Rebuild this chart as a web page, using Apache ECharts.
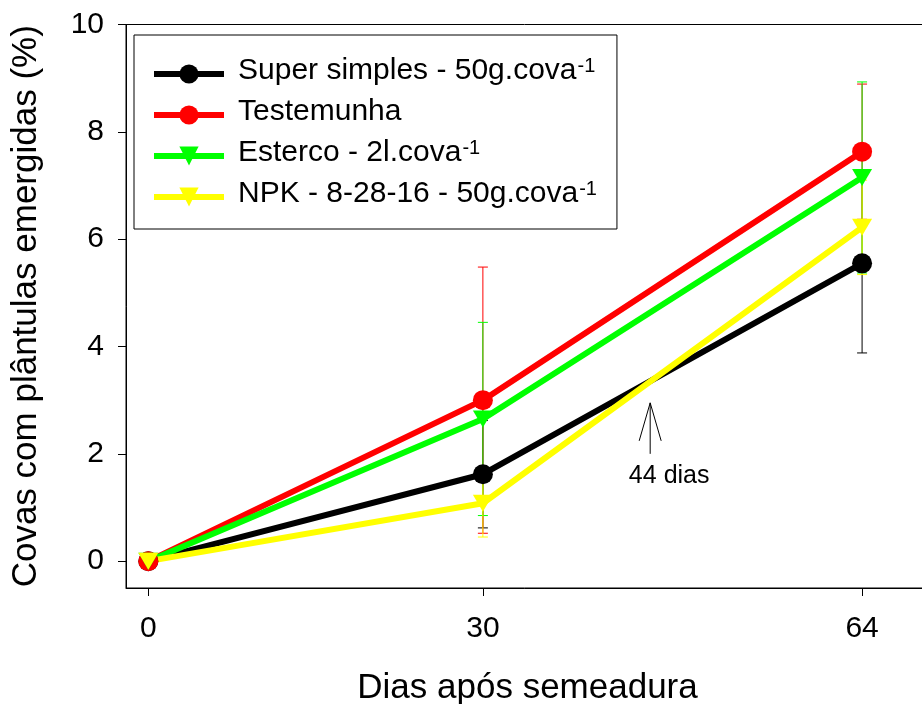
<!DOCTYPE html>
<html>
<head>
<meta charset="utf-8">
<title>Covas com plântulas emergidas</title>
<script src="https://cdn.jsdelivr.net/npm/echarts@6/dist/echarts.min.js"></script>
<style>
  html, body { margin: 0; padding: 0; background: #fff; }
  #chart { width: 922px; height: 704px; }
</style>
</head>
<body>
<div id="chart"></div>
<script>
// dados
const days = [0, 30, 64]
const xTicks = [0, 30, 64]
const yTicks = [0, 2, 4, 6, 8, 10]

const superSimples = [0, 1.62, 5.55]
const superSimplesErr = [0, 1.0, 1.67]
const testemunha = [0, 3.0, 7.63]
const testemunhaErr = [0, 2.48, 1.26]
const esterco = [0, 2.65, 7.15]
const estercoErr = [0, 1.8, 1.78]
const npk = [0, 1.08, 6.22]
const npkErr = [0, 0.63, 0.88]

// seta "44 dias": x, base e ponta da seta
const arrowX = 45
const arrowFrom = 2.0
const arrowTo = 2.95
const arrowLabel = '44 dias'

const FONT = '"Liberation Sans", Arial, Helvetica, sans-serif'

const groups = [
    { name: 'Super simples - 50g.cova', sup: '-1', values: superSimples, err: superSimplesErr, color: '#000000', symbol: 'circle' },
    { name: 'Testemunha', sup: '', values: testemunha, err: testemunhaErr, color: '#ff0000', symbol: 'circle' },
    { name: 'Esterco - 2l.cova', sup: '-1', values: esterco, err: estercoErr, color: '#00ff00', symbol: 'triangle' },
    { name: 'NPK - 8-28-16 - 50g.cova', sup: '-1', values: npk, err: npkErr, color: '#ffff00', symbol: 'triangle' }
]

const chart = echarts.init(document.getElementById('chart'), null, { renderer: 'canvas' })

// barras de erro (linha vertical + traços)
function errorBarSeries(g) {
    return {
        type: 'custom',
        name: g.name + '_err',
        silent: true,
        data: days.map((d, i) => [d, g.values[i] - g.err[i], g.values[i] + g.err[i], g.err[i]]),
        encode: { x: 0, y: [1, 2] },
        renderItem: function (params, api) {
            if (api.value(3) === 0) return null
            const x = api.value(0)
            const top = api.coord([x, api.value(2)])
            const bot = api.coord([x, api.value(1)])
            const w = 5
            const st = { stroke: g.color, lineWidth: 1 }
            return {
                type: 'group',
                children: [
                    { type: 'line', shape: { x1: top[0], y1: top[1], x2: bot[0], y2: bot[1] }, style: st },
                    { type: 'line', shape: { x1: top[0] - w, y1: top[1], x2: top[0] + w, y2: top[1] }, style: st },
                    { type: 'line', shape: { x1: bot[0] - w, y1: bot[1], x2: bot[0] + w, y2: bot[1] }, style: st }
                ]
            }
        }
    }
}

function lineSeries(g) {
    return {
        type: 'line',
        name: g.name,
        data: days.map((d, i) => [d, g.values[i]]),
        symbol: g.symbol,
        symbolSize: g.symbol === 'circle' ? 20 : [20, 17],
        symbolRotate: g.symbol === 'triangle' ? 180 : 0,
        showSymbol: true,
        clip: false,
        lineStyle: { color: g.color, width: 6 },
        itemStyle: { color: g.color, borderWidth: 0 },
        emphasis: { disabled: true }
    }
}

const series = []
groups.forEach(g => {
    series.push(errorBarSeries(g))
    series.push(lineSeries(g))
})

// anotação da seta
series.push({
    type: 'custom',
    name: 'seta',
    silent: true,
    data: [[arrowX, arrowFrom, arrowTo]],
    encode: { x: 0, y: [1, 2] },
    z: 5,
    renderItem: function (params, api) {
        const tail = api.coord([api.value(0), api.value(1)])
        const tip = api.coord([api.value(0), api.value(2)])
        const st = { stroke: '#000', lineWidth: 1 }
        return {
            type: 'group',
            children: [
                { type: 'line', shape: { x1: tail[0], y1: tail[1], x2: tip[0], y2: tip[1] }, style: st },
                { type: 'polyline', shape: { points: [[tip[0] - 11, tip[1] + 38], [tip[0], tip[1]], [tip[0] + 11, tip[1] + 38]] }, style: { stroke: '#000', lineWidth: 1, fill: null } },
                { type: 'text', x: tip[0] + 19, y: tail[1] + 22, style: { text: arrowLabel, font: '25px ' + FONT, fill: '#000', align: 'center', verticalAlign: 'middle' } }
            ]
        }
    }
})

const option = {
    animation: false,
    backgroundColor: '#ffffff',
    textStyle: { fontFamily: FONT },
    grid: {
        left: 126,
        right: -7,
        top: 24.5,
        bottom: 116,
        outerBoundsMode: 'none',
        show: true,
        borderColor: '#000',
        borderWidth: 1,
        backgroundColor: 'transparent'
    },
    legend: {
        orient: 'vertical',
        left: 134,
        top: 35,
        backgroundColor: '#fff',
        borderColor: '#000',
        borderWidth: 1,
        padding: [21, 20, 14, 17],
        itemWidth: 70,
        itemHeight: 24,
        itemGap: 5,
        lineStyle: { width: 6 },
        data: groups.map(g => g.name),
        formatter: function (name) {
            const g = groups.find(it => it.name === name)
            // expoente um pouco acima da linha do texto
            return '{b|' + name + '}{s|' + (g.sup || ' ') + '}'
        },
        textStyle: {
            color: '#000',
            padding: [0, 0, 6, 9],
            rich: {
                b: { fontSize: 30, fontFamily: FONT, color: '#000', lineHeight: 30, verticalAlign: 'bottom' },
                s: { fontSize: 20, fontFamily: FONT, color: '#000', lineHeight: 20, verticalAlign: 'top', padding: [0, 0, 16, 1] }
            }
        }
    },
    xAxis: {
        type: 'value',
        min: -2,
        max: 70,
        name: 'Dias após semeadura',
        nameLocation: 'middle',
        nameGap: 83,
        nameTextStyle: { fontSize: 35, fontFamily: FONT, color: '#000' },
        axisLine: { show: true, onZero: false, lineStyle: { color: '#000', width: 1 } },
        axisTick: { show: true, inside: false, length: 8, customValues: xTicks, lineStyle: { color: '#000' } },
        axisLabel: { customValues: xTicks, fontSize: 30, fontFamily: FONT, color: '#000', margin: 26 },
        splitLine: { show: false }
    },
    yAxis: {
        type: 'value',
        min: -0.5,
        max: 10,
        name: 'Covas com plântulas emergidas (%)',
        nameLocation: 'middle',
        nameGap: 82,
        nameTextStyle: { fontSize: 35, fontFamily: FONT, color: '#000' },
        axisLine: { show: true, onZero: false, lineStyle: { color: '#000', width: 1 } },
        axisTick: { show: true, inside: false, length: 8, customValues: yTicks, lineStyle: { color: '#000' } },
        axisLabel: { customValues: yTicks, fontSize: 30, fontFamily: FONT, color: '#000', margin: 22 },
        splitLine: { show: false }
    },
    series: series
}

chart.setOption(option)
</script>
</body>
</html>
